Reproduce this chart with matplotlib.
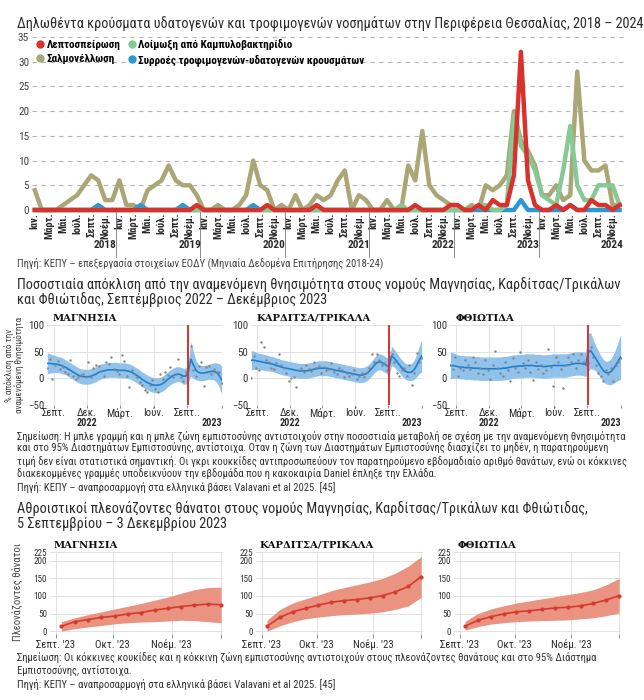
import numpy as np
import pandas as pd
import matplotlib
matplotlib.use("Agg")
import matplotlib.pyplot as plt
from matplotlib import font_manager as fm
from matplotlib.lines import Line2D

# the original uses a condensed sans; take one if the system has it
_narrow = {(f.name, f.stretch) for f in fm.fontManager.ttflist
           if f.stretch in ("condensed", "semi-condensed")
           or "Narrow" in f.name or "Condensed" in f.name}
FAMILY, STRETCH = "Roboto", "normal"
for fam in ["Roboto Condensed", "Open Sans Condensed", "Noto Sans",
            "Open Sans", "DejaVu Sans Condensed", "DejaVu Sans",
            "Liberation Sans Narrow"]:
    hits = [st for nm, st in _narrow if nm == fam]
    if hits:
        FAMILY, STRETCH = fam, ("condensed" if "condensed" in hits else hits[0])
        break
plt.rcParams['font.family'] = [FAMILY, 'DejaVu Sans']
plt.rcParams['font.stretch'] = STRETCH

W, H = 644, 700

# ── top chart: monthly reported cases, Jan 2018 – Dec 2024 ────────────────────
leptospirosis = [
    0, 0, 0, 0, 0, 0, 0, 0, 0, 0, 0, 0,
    0, 0, 0, 0, 0, 0, 0, 0, 0, 0, 0, 1,
    0, 0, 0, 0, 0, 0, 0, 0, 0, 1, 0, 0,
    0, 0, 0, 0, 1, 0, 0, 0, 0, 0, 0, 0,
    0, 0, 0, 0, 0, 0, 1, 0, 0, 0, 0, 1,
    1, 0, 0, 1, 0, 2, 1, 1, 7, 32, 6, 1,
    0, 0, 1, 0, 1, 0, 0, 2, 1, 1, 0, 1,
]
campylobacter = [
    0, 0, 0, 0, 0, 0, 0, 0, 0, 0, 0, 0,
    0, 0, 0, 0, 0, 0, 0, 0, 0, 0, 0, 0,
    0, 0, 0, 0, 0, 0, 0, 0, 0, 0, 0, 0,
    0, 0, 0, 0, 0, 0, 0, 0, 0, 0, 0, 0,
    0, 0, 0, 0, 1, 0, 0, 0, 0, 0, 0, 0,
    0, 0, 0, 1, 1, 0, 0, 1, 19, 13, 11, 8,
    3, 2, 1, 8, 17, 5, 2, 2, 5, 5, 5, 1,
]
salmonellosis = [
    4, 0, 0, 0, 1, 2, 3, 5, 7, 6, 2, 2,
    6, 1, 1, 0, 4, 5, 6, 9, 6, 5, 5, 3,
    0, 0, 1, 0, 0, 1, 3, 10, 5, 4, 0, 1,
    0, 3, 0, 1, 3, 2, 3, 6, 8, 0, 3, 2,
    0, 0, 2, 0, 0, 9, 6, 16, 5, 3, 2, 1,
    1, 0, 1, 0, 5, 4, 5, 7, 20, 14, 12, 9,
    3, 3, 5, 2, 3, 28, 10, 8, 8, 9, 1, 1,
]
outbreaks = [
    0, 0, 0, 0, 0, 0, 0, 0, 0, 1, 0, 0,
    0, 0, 0, 1, 0, 0, 0, 0, 0, 1, 0, 0,
    0, 0, 0, 0, 0, 0, 0, 1, 0, 0, 0, 0,
    0, 0, 0, 0, 0, 0, 0, 0, 0, 0, 0, 0,
    0, 0, 0, 0, 0, 0, 0, 0, 0, 0, 0, 0,
    0, 0, 0, 0, 0, 0, 0, 0, 0, 2, 0, 0,
    0, 0, 0, 0, 1, 0, 0, 0, 0, 0, 0, 0,
]
years = ["2018", "2019", "2020", "2021", "2022", "2023", "2024"]
month_labels = ["Ιαν.", "Μάρτ.", "Μάι.", "Ιούλ.", "Σεπτ.", "Νοέμ."]

# ── middle panels: weekly % deviation from expected mortality ────────────────
weeks = pd.date_range("2022-08-15", periods=69, freq="7D")
daniel_week = pd.Timestamp("2023-09-04")

mag_fit = [28, 28, 27, 27, 26, 25, 23, 21, 18, 15, 12, 9, 6, 4,
           3, 3, 3, 4, 6, 8, 11, 13, 14, 15, 16, 16, 16, 16,
           15, 15, 15, 14, 13, 11, 8, 5, 2, -2, -5, -8, -10, -12,
           -13, -13, -12, -10, -6, -2, 2, 5, 7, 8, 7, 4, 4, 12,
           36, 25, 15, 11, 10, 10, 11, 12, 13, 13, 11, 6, -3]
mag_ci = [20, 18, 17, 16, 15, 15, 15, 14, 14, 14, 14, 14, 14, 14,
          14, 14, 14, 14, 14, 14, 14, 14, 14, 14, 14, 14, 14, 14,
          14, 14, 14, 14, 14, 14, 14, 14, 14, 14, 14, 14, 14, 14,
          14, 14, 14, 14, 14, 14, 14, 14, 14, 14, 14, 15, 15, 20,
          32, 25, 18, 15, 14, 14, 14, 14, 15, 16, 18, 22, 26]
mag_obs = [20, 36, -2, 25, 33, 18, 22, 12, 8, 34,
           5, -2, 3, 6, 9, 3, 31, 2, 19, 25,
           24, 14, 5, 30, 27, 40, 17, 14, 9, 44,
           33, 4, -17, 16, 9, 3, -6, -13, -22, -26,
           -12, -3, -20, -25, 9, -2, 12, 6, 21, 3,
           9, 36, 3, -5, 11, 28, 60, 16, 5, 23,
           30, -14, 21, 24, 8, 18, 12, 11, -9]

kar_fit = [34, 34, 33, 32, 31, 30, 29, 28, 27, 26, 24, 23, 21, 20,
           19, 18, 17, 16, 15, 14, 14, 14, 14, 15, 16, 17, 18, 19,
           19, 19, 19, 18, 17, 16, 15, 14, 13, 12, 11, 10, 9, 8,
           7, 6, 6, 7, 9, 13, 18, 24, 29, 31, 30, 27, 24, 22,
           42, 38, 32, 26, 20, 15, 12, 11, 12, 16, 24, 34, 42]
kar_ci = [18, 17, 16, 15, 15, 15, 15, 14, 14, 14, 14, 14, 14, 14,
          14, 14, 14, 14, 14, 14, 14, 14, 14, 14, 14, 14, 14, 14,
          14, 14, 14, 14, 14, 14, 14, 14, 14, 14, 14, 14, 14, 14,
          14, 14, 14, 14, 14, 14, 14, 14, 15, 15, 15, 15, 15, 16,
          18, 17, 16, 15, 15, 15, 15, 15, 16, 18, 21, 25, 30]
kar_obs = [0, 42, 20, 15, 68, 58, 35, 30, 20, 18,
           28, 45, 25, 20, 10, -5, 0, 2, -16, 15,
           20, 12, 25, 18, 14, 30, 20, 24, 10, 22,
           15, 18, 28, 12, 8, 20, 15, 3, 10, 5,
           8, 15, -2, 5, 10, 3, 12, 20, 45, 30,
           45, 35, 25, 28, 15, 50, 45, 30, 10, 5,
           15, 20, 5, 25, -12, 10, 48, 30, 38]

fth_fit = [24, 24, 23, 22, 21, 21, 20, 20, 20, 19, 19, 19, 18, 18,
           18, 18, 18, 18, 18, 18, 18, 19, 19, 20, 21, 22, 22, 23,
           23, 23, 24, 24, 24, 24, 23, 23, 23, 22, 22, 23, 23, 24,
           24, 24, 24, 24, 24, 25, 26, 27, 28, 28, 28, 27, 26, 48,
           52, 45, 38, 30, 22, 15, 11, 10, 12, 17, 24, 32, 40]
fth_ci = [25, 24, 23, 22, 22, 22, 22, 22, 22, 22, 22, 22, 22, 22,
          22, 22, 22, 22, 22, 22, 22, 22, 22, 22, 22, 22, 22, 22,
          22, 22, 22, 22, 22, 22, 22, 22, 22, 22, 22, 22, 22, 22,
          22, 22, 22, 22, 22, 22, 22, 22, 22, 22, 22, 22, 23, 36,
          34, 28, 24, 22, 21, 21, 21, 22, 24, 27, 31, 36, 42]
fth_obs = [25, 18, 40, 5, 20, 15, 35, 25, 18, 40,
           30, 10, 20, 8, 35, 15, -2, 25, 52, 20,
           10, 5, 30, 15, -5, 38, 20, 12, 50, 28,
           20, 35, 12, -3, 30, 18, 25, 10, 15, 55,
           22, -15, 40, 30, 18, -18, 25, 40, 30, 45,
           20, 35, 45, 30, 25, 28, 58, 40, 25, 10,
           5, -5, 15, 8, 20, -5, 25, 30, 38]

# ── bottom panels: cumulative excess deaths, 5 Sep – 3 Dec 2023 ──────────────
cum_weeks = pd.date_range("2023-09-04", periods=13, freq="7D")
mag_excess = [14, 27, 33, 39, 43, 49, 53, 60, 65, 70, 74, 77, 75]
mag_lo = [0, 7, 12, 16, 21, 24, 26, 27, 29, 31, 30, 27, 24]
mag_hi = [27, 38, 47, 55, 63, 71, 79, 88, 97, 108, 118, 124, 125]
kar_excess = [14, 39, 55, 65, 74, 82, 87, 90, 95, 101, 112, 127, 155]
kar_lo = [0, 15, 27, 35, 40, 44, 47, 49, 51, 55, 62, 72, 96]
kar_hi = [31, 62, 80, 92, 103, 115, 124, 132, 140, 150, 165, 185, 212]
fth_excess = [14, 31, 41, 49, 55, 58, 62, 66, 68, 72, 79, 89, 101]
fth_lo = [3, 13, 20, 24, 27, 29, 30, 31, 32, 35, 38, 44, 52]
fth_hi = [28, 50, 63, 72, 80, 86, 92, 98, 104, 110, 118, 132, 150]

regions = ["ΜΑΓΝΗΣΙΑ", "ΚΑΡΔΙΤΣΑ/ΤΡΙΚΑΛΑ", "ΦΘΙΩΤΙΔΑ"]

title_top = ("Δηλωθέντα κρούσματα υδατογενών και τροφιμογενών νοσημάτων "
             "στην Περιφέρεια Θεσσαλίας, 2018 – 2024")
source_top = ("Πηγή: ΚΕΠΥ – επεξεργασία στοιχείων ΕΟΔΥ "
              "(Μηνιαία Δεδομένα Επιτήρησης 2018-24)")
title_mid = ["Ποσοστιαία απόκλιση από την αναμενόμενη θνησιμότητα στους νομούς "
             "Μαγνησίας, Καρδίτσας/Τρικάλων",
             "και Φθιώτιδας, Σεπτέμβριος 2022 – Δεκέμβριος 2023"]
note_mid = [
    "Σημείωση: Η μπλε γραμμή και η μπλε ζώνη εμπιστοσύνης αντιστοιχούν στην ποσοστιαία "
    "μεταβολή σε σχέση με την αναμενόμενη θνησιμότητα",
    "και στο 95% Διαστημάτων Εμπιστοσύνης, αντίστοιχα. Οταν η ζώνη των Διαστημάτων "
    "Εμπιστοσύνης διασχίζει το μηδέν, η παρατηρούμενη",
    "τιμή δεν είναι στατιστικά σημαντική. Οι γκρι κουκκίδες αντιπροσωπεύουν τον "
    "παρατηρούμενο εβδομαδιαίο αριθμό θανάτων, ενώ οι κόκκινες",
    "διακεκομμένες γραμμές υποδεικνύουν την εβδομάδα που η κακοκαιρία Daniel "
    "έπληξε την Ελλάδα.",
    "Πηγή: ΚΕΠΥ – αναπροσαρμογή στα ελληνικά βάσει Valavani et al 2025. [45]",
]
title_bot = ["Αθροιστικοί πλεονάζοντες θάνατοι στους νομούς Μαγνησίας, "
             "Καρδίτσας/Τρικάλων και Φθιώτιδας,",
             "5 Σεπτεμβρίου – 3 Δεκεμβρίου 2023"]
note_bot = [
    "Σημείωση: Οι κόκκινες κουκίδες και η κόκκινη ζώνη εμπιστοσύνης "
    "αντιστοιχούν στους πλεονάζοντες θανάτους και στο 95% Διάστημα",
    "Εμπιστοσύνης, αντίστοιχα.",
    "Πηγή: ΚΕΠΥ – αναπροσαρμογή στα ελληνικά βάσει Valavani et al 2025. [45]",
]

RED = "#d8322c"
OLIVE = "#aba676"
GREEN = "#86c994"
BLUE = "#2a98d5"
TXT = "#2b2b2b"
GRID = "#e2e2e2"


def box(x0, y0, x1, y1):
    """Pixel box (top-left origin) -> figure fraction rect."""
    return [x0 / W, 1 - y1 / H, (x1 - x0) / W, (y1 - y0) / H]


def ftext(x, y, s, **kw):
    kw.setdefault("color", TXT)
    kw.setdefault("va", "center")
    fig.text(x / W, 1 - y / H, s, **kw)


fig = plt.figure(figsize=(W / 100, H / 100), dpi=100)
renderer = fig.canvas.get_renderer()


def fit_size(s, width_px, weight="normal", base=10.0):
    """Font size at which text s is width_px pixels wide."""
    t = fig.text(0, 0, s, fontsize=base, fontweight=weight)
    w = t.get_window_extent(renderer=renderer).width
    t.remove()
    return base * width_px / w


TITLE_FS = fit_size(title_top, 622)
NOTE_FS = fit_size(note_mid[0], 610)
LEG_FS = fit_size("Συρροές τροφιμογενών-υδατογενών κρουσμάτων", 228, "bold")
SMALL_FS = min(NOTE_FS * 1.05, 8.4)
TICK_FS = 7.8
PANEL_FS = 7.2

# ── top chart ────────────────────────────────────────────────────────────────
ftext(17, 23, title_top, fontsize=TITLE_FS)

ax = fig.add_axes(box(32, 37, 628, 210))
x = np.arange(len(salmonellosis))
ax.plot(x, salmonellosis, color=OLIVE, lw=3.2, zorder=3, clip_on=False)
ax.plot(x, outbreaks, color=BLUE, lw=3.2, zorder=4, clip_on=False)
ax.plot(x, campylobacter, color=GREEN, lw=3.2, zorder=5, clip_on=False)
ax.plot(x, leptospirosis, color=RED, lw=3.2, zorder=6, clip_on=False)
ax.set_xlim(-0.4, 84.2)
ax.set_ylim(0, 35)
ax.set_yticks(range(0, 36, 5))
ax.grid(axis="y", color="#b5b5b5", lw=0.8, ls=(0, (4, 4)))
for s in ax.spines.values():
    s.set_visible(False)
ax.set_xticks(range(0, 84, 2))
ax.set_xticklabels([month_labels[k % 6] for k in range(42)], rotation=90,
                   fontsize=SMALL_FS * 0.95, fontweight="bold", color=TXT)
ax.tick_params(axis="both", length=0, pad=2)
ax.tick_params(axis="y", labelsize=SMALL_FS, labelcolor="#444")
xt = ax.get_xaxis_transform()
for k, yr in enumerate(years):
    ax.text(12 * k + 11.6, -0.205, yr, transform=xt, ha="right", va="center",
            fontsize=SMALL_FS, fontweight="bold", color=TXT)
    if k > 0:
        ax.plot([12 * k - 0.5] * 2, [-0.01, -0.27], transform=xt,
                color="#777", lw=0.6, clip_on=False)

handles = [
    Line2D([], [], ls="", marker="o", ms=5, color=RED, label="Λεπτοσπείρωση"),
    Line2D([], [], ls="", marker="o", ms=5, color=OLIVE, label="Σαλμονέλλωση"),
    Line2D([], [], ls="", marker="o", ms=5, color=GREEN,
           label="Λοίμωξη από Καμπυλοβακτηρίδιο"),
    Line2D([], [], ls="", marker="o", ms=5, color=BLUE,
           label="Συρροές τροφιμογενών-υδατογενών κρουσμάτων"),
]
ax.legend(handles=handles, ncol=2, loc="upper left", bbox_to_anchor=(0.0, 1.0),
          frameon=False, borderaxespad=0, borderpad=0.2, handletextpad=0.1,
          columnspacing=0.5, labelspacing=0.3, handlelength=1.0,
          prop={"size": LEG_FS, "weight": "bold"})

ftext(17, 263, source_top, fontsize=NOTE_FS, color="#444")

# ── middle panels ────────────────────────────────────────────────────────────
ftext(17, 284, title_mid[0], fontsize=TITLE_FS)
ftext(17, 300, title_mid[1], fontsize=TITLE_FS)

mid_series = [(mag_fit, mag_ci, mag_obs), (kar_fit, kar_ci, kar_obs),
              (fth_fit, fth_ci, fth_obs)]
mid_boxes = [(47, 325, 222, 405), (251, 325, 422, 405), (450, 325, 621, 405)]
mid_ticks = pd.to_datetime(["2022-09-01", "2022-12-01", "2023-03-01",
                            "2023-06-01", "2023-09-01", "2023-12-04"])
mid_labels = ["Σεπτ.", "Δεκ.", "Μάρτ.", "Ιούν.", "Σεπτ..", ""]

for (fit, ci, obs), bx, name in zip(mid_series, mid_boxes, regions):
    a = fig.add_axes(box(*bx))
    fit = np.array(fit, float)
    ci = np.array(ci, float)
    a.fill_between(weeks, fit - ci, fit + ci, color="#91c2ec", lw=0, zorder=2)
    a.plot(weeks, fit, color="#1b82cc", lw=1.2, zorder=3)
    a.scatter(weeks, obs, s=3, color="#848484", zorder=4, lw=0)
    a.axvline(daniel_week, color=RED, lw=1.4, zorder=5)
    a.set_xlim(pd.Timestamp("2022-08-14"), pd.Timestamp("2023-12-05"))
    a.set_ylim(-50, 100)
    a.set_yticks([-50, 0, 50, 100])
    a.set_xticks(mid_ticks)
    a.set_xticklabels(mid_labels, fontsize=TICK_FS, color=TXT)
    a.grid(color=GRID, lw=0.7, zorder=0)
    a.set_axisbelow(True)
    for s in a.spines.values():
        s.set_visible(False)
    a.tick_params(axis="y", length=0, labelsize=TICK_FS, labelcolor="#333", pad=2)
    a.tick_params(axis="x", length=2, width=0.6, color="#777", pad=0)
    a.text(pd.Timestamp("2022-12-01"), -0.225, "2022",
           transform=a.get_xaxis_transform(), ha="center", va="center",
           fontsize=TICK_FS * 0.95, fontweight="bold", color=TXT)
    a.text(1.0, -0.225, "2023", transform=a.transAxes, ha="right", va="center",
           fontsize=TICK_FS * 0.95, fontweight="bold", color=TXT)
    a.text(0.03, 1.03, name, transform=a.transAxes, ha="left", va="bottom",
           fontsize=PANEL_FS, fontweight="bold", family="DejaVu Serif",
           stretch="normal", color="#111")

ftext(14, 365, "% απόκλιση από την\nαναμενόμενη θνησιμότητα", rotation=90,
      ha="center", fontsize=SMALL_FS * 0.82, color="#444", linespacing=1.0)

for k, line in enumerate(note_mid):
    ftext(17, 436 + 12.8 * k, line, fontsize=NOTE_FS, color="#333")

# ── bottom panels ────────────────────────────────────────────────────────────
ftext(17, 508, title_bot[0], fontsize=TITLE_FS)
ftext(17, 524, title_bot[1], fontsize=TITLE_FS)

bot_series = [(mag_excess, mag_lo, mag_hi), (kar_excess, kar_lo, kar_hi),
              (fth_excess, fth_lo, fth_hi)]
bot_boxes = [(50, 552, 223, 634), (256, 552, 423, 634), (454, 552, 621, 634)]
bot_ticks = pd.to_datetime(["2023-09-01", "2023-10-01", "2023-11-01", "2023-11-27"])
bot_labels = ["Σεπτ. '23", "Οκτ. '23", "Νοέμ. '23", ""]

for (ex, lo, hi), bx, name in zip(bot_series, bot_boxes, regions):
    a = fig.add_axes(box(*bx))
    a.fill_between(cum_weeks, lo, hi, color="#e99380", lw=0, zorder=2)
    a.plot(cum_weeks, ex, color="#d63a2e", lw=1.2, marker="o", ms=2,
           zorder=3)
    a.set_xlim(pd.Timestamp("2023-08-29"), pd.Timestamp("2023-11-28"))
    a.set_ylim(-8, 225)
    a.set_yticks([0, 50, 100, 150, 200, 225])
    a.set_xticks(bot_ticks)
    a.set_xticklabels(bot_labels, fontsize=TICK_FS, color=TXT)
    a.grid(color=GRID, lw=0.7, zorder=0)
    a.set_axisbelow(True)
    for s in a.spines.values():
        s.set_visible(False)
    a.tick_params(axis="y", length=0, labelsize=6.6, labelcolor="#333", pad=2)
    a.tick_params(axis="x", length=3, width=0.6, color="#777", pad=1)
    a.text(0.02, 1.03, name, transform=a.transAxes, ha="left", va="bottom",
           fontsize=PANEL_FS, fontweight="bold", family="DejaVu Serif",
           stretch="normal", color="#111")

ftext(18, 592, "Πλεονάζοντες θάνατοι", rotation=90, ha="center",
      fontsize=SMALL_FS * 0.95, color="#444")

for k, line in enumerate(note_bot):
    ftext(17, 658 + 13.5 * k, line, fontsize=NOTE_FS, color="#333")

fig.savefig("out.png", dpi=100)
